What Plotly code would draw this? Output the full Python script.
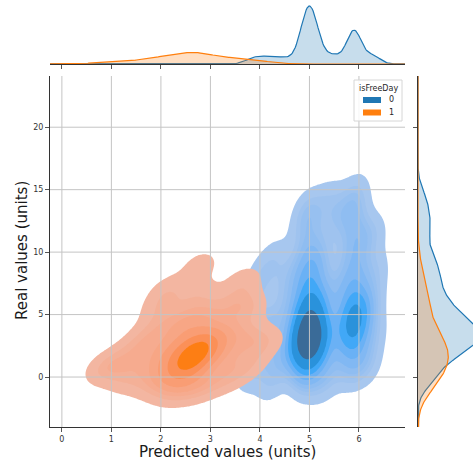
import math
import numpy as np
import plotly.graph_objects as go

W, H = 473, 463

# ---------------- data ----------------
hue_labels = ["0", "1"]
hue_colors = ["#1f77b4", "#ff7f0e"]

# isFreeDay = 0
free0_x = [4.85, 5.0, 5.1, 4.95, 5.05, 4.9, 5.0, 5.1, 4.8, 4.95, 5.05, 5.15, 4.9, 5.0, 4.85, 5.1,
           4.95, 5.05, 5.0, 4.9, 5.1, 4.95, 5.0, 4.85, 5.1, 5.0, 4.9, 5.0, 4.9, 5.05, 4.95, 5.0,
           5.0, 5.15, 5.15, 5.2,
           5.0, 4.95, 5.05, 4.9, 5.1,
           5.85, 5.95, 5.9, 5.8, 5.95, 5.9, 5.85, 6.0, 5.9, 5.8, 5.95, 5.9, 5.85, 6.0, 5.9, 5.85, 5.95, 5.9,
           5.9, 5.95, 5.85,
           5.3, 5.45, 5.55, 5.5, 5.55, 5.4,
           3.75, 3.9, 4.05, 3.85, 4.2, 4.35, 4.15, 4.45, 4.55, 4.6, 4.3, 4.0,
           6.2, 6.3, 6.25, 6.35, 6.3]
free0_y = [0.3, -0.3, 1.8, 1.5, 2.4, 2.0, 2.5, 2.2, 3.0, 3.2, 3.8, 3.0, 4.0, 4.5, 4.8, 4.2,
           5.5, 5.2, 6.0, 6.5, 6.8, 7.5, 8.2, 9.0, 9.8, 11.0, 12.5, 3.5, 2.8, 1.8, 3.4, 4.0,
           13.5, 2.6, 5.6, 9.0,
           3.0, 3.6, 4.4, 2.6, 3.3,
           0.5, 1.5, 2.5, 3.5, 4.2, 4.8, 5.2, 5.6, 6.2, 7.0, 7.8, 8.8, 10.0, 11.0, 12.2, 13.5, 14.8, 5.0,
           3.8, 4.5, 3.0,
           -0.5, 1.2, 3.8, 7.0, 12.5, 14.2,
           0.2, 2.0, 4.0, 6.0, -0.5, 1.2, 3.0, 5.0, 7.5, 2.0, 9.5, 8.0,
           1.0, 3.5, 6.0, 8.5, 11.5]

# isFreeDay = 1
free1_x = [0.8, 1.1, 1.3, 1.5,
           1.8, 1.8, 1.8, 1.95,
           2.2, 2.2, 2.25, 2.2, 2.3, 2.15,
           2.6, 2.5, 2.55, 2.6, 2.65, 2.6, 2.6, 2.75, 2.8,
           2.95, 2.8, 2.85, 2.9, 3.0, 3.0,
           3.4, 3.3, 3.4, 3.5,
           3.8, 3.8, 3.8, 3.7,
           4.15]
free1_y = [0.5, 1.2, -0.2, 2.4,
           -0.6, 1.2, 3.5, 5.5,
           -1.2, 0.2, 1.3, 2.4, 4.2, 7.0,
           -1.0, 0.4, 0.9, 1.4, 1.9, 2.8, 4.5, 6.5, 9.0,
           -0.6, 1.5, 2.2, 2.7, 3.2, 5.0,
           0.0, 1.8, 3.6, 6.0,
           1.0, 3.2, 5.5, 7.8,
           2.8]

x_ticks = [0, 1, 2, 3, 4, 5, 6]
y_ticks = [0, 5, 10, 15, 20]
x_title = "Predicted values (units)"
y_title = "Real values (units)"
legend_title = "isFreeDay"

# smoothing (rendering parameters, like seaborn's bw_adjust)
bw2d = {"0": 0.75, "1": 0.72}
bw1d = {"0": 0.55, "1": 0.9}
n_levels, thresh = 10, 0.05

FONT = "DejaVu Sans"

# ---------------- HUSL (as used by seaborn) ----------------
_m = [[3.2406, -1.5372, -0.4986], [-0.9689, 1.8758, 0.0415], [0.0557, -0.2040, 1.0570]]
_minv = [[0.4124, 0.3576, 0.1805], [0.2126, 0.7152, 0.0722], [0.0193, 0.1192, 0.9505]]
refU, refV = 0.19784, 0.46834


def _max_chroma(L, Hh):
    hr = math.radians(Hh)
    sH, cH = math.sin(hr), math.cos(hr)
    sub1 = (L + 16) ** 3 / 1560896.0
    sub2 = sub1 if sub1 > 0.008856 else L / 903.3
    res = float("inf")
    for m1, m2, m3 in _m:
        top = (0.99915 * m1 + 1.05122 * m2 + 1.14460 * m3) * sub2
        rb = 0.86330 * m3 - 0.17266 * m2
        lb = 0.12949 * m3 - 0.38848 * m1
        bottom = (rb * sH + lb * cH) * sub2
        for t in (0.0, 1.0):
            C = L * (top - 1.05122 * t) / (bottom + 0.17266 * sH * t)
            if 0.0 < C < res:
                res = C
    return res


def _f(t):
    return t ** (1 / 3) if t > 0.008856 else 7.787 * t + 16 / 116


def _finv(t):
    return t ** 3 if t ** 3 > 0.008856 else (116 * t - 16) / 903.3


def _to_lin(c):
    return ((c + 0.055) / 1.055) ** 2.4 if c > 0.04045 else c / 12.92


def _from_lin(c):
    return 12.92 * c if c <= 0.0031308 else 1.055 * c ** (1 / 2.4) - 0.055


def rgb_to_husl(r, g, b):
    rl = [_to_lin(c) for c in (r, g, b)]
    X, Y, Z = [sum(a * b for a, b in zip(row, rl)) for row in _minv]
    den = X + 15 * Y + 3 * Z
    L = 116 * _f(Y) - 16
    U = 13 * L * (4 * X / den - refU)
    V = 13 * L * (9 * Y / den - refV)
    C = math.hypot(U, V)
    Hh = math.degrees(math.atan2(V, U)) % 360
    return Hh, C / _max_chroma(L, Hh) * 100, L


def husl_to_rgb(Hh, S, L):
    C = _max_chroma(L, Hh) / 100 * S
    U = math.cos(math.radians(Hh)) * C
    V = math.sin(math.radians(Hh)) * C
    Y = _finv((L + 16) / 116)
    vU = U / (13 * L) + refU
    vV = V / (13 * L) + refV
    X = -(9 * Y * vU) / ((vU - 4) * vV - vU * vV)
    Z = (9 * Y - 15 * vV * Y - vV * X) / (3 * vV)
    return [min(max(_from_lin(sum(a * b for a, b in zip(row, (X, Y, Z)))), 0), 1) for row in _m]


def hex_rgb(h):
    h = h.lstrip("#")
    return [int(h[i:i + 2], 16) / 255 for i in (0, 2, 4)]


def cmap_from_color(hexc):
    h, s, _ = rgb_to_husl(*hex_rgb(hexc))
    xx = np.linspace(-1, 1, int(1.15 * 256))[:256]
    ls = np.linspace(35, 80, 256)
    cols = [husl_to_rgb(h, s * math.cos(a), l) for a, l in zip(xx, ls)]
    return cols[::-1]


def css(c, a=None):
    r, g, b = [int(round(v * 255)) for v in c]
    return f"rgb({r},{g},{b})" if a is None else f"rgba({r},{g},{b},{a})"


# ---------------- KDE ----------------
def kde2d(xs, ys, gx, gy, bw):
    d = np.vstack([xs, ys])
    n = d.shape[1]
    fac = bw * n ** (-1 / 6)
    cov = np.cov(d) * fac * fac
    inv = np.linalg.inv(cov)
    norm = 1 / (2 * np.pi * np.sqrt(np.linalg.det(cov)))
    X, Y = np.meshgrid(gx, gy)
    out = np.zeros_like(X)
    for xi, yi in zip(xs, ys):
        dx, dy = X - xi, Y - yi
        out += np.exp(-0.5 * (inv[0, 0] * dx * dx + 2 * inv[0, 1] * dx * dy + inv[1, 1] * dy * dy))
    return out * norm / n


def kde1d(v, g, bw):
    v = np.asarray(v, float)
    n = len(v)
    s = bw * n ** (-1 / 5) * v.std(ddof=1)
    return np.exp(-0.5 * ((g[:, None] - v[None, :]) / s) ** 2).sum(1) / (n * s * np.sqrt(2 * np.pi))


groups = {"0": (free0_x, free0_y), "1": (free1_x, free1_y)}
n_tot = sum(len(v[0]) for v in groups.values())

gx = np.linspace(-0.6, 7.4, 260)
gy = np.linspace(-7, 26, 300)
dens = {}
for k, (xs, ys) in groups.items():
    dens[k] = kde2d(xs, ys, gx, gy, bw2d[k]) * len(xs) / n_tot

allv = np.concatenate([d.ravel() for d in dens.values()])
sv = np.sort(allv)[::-1]
cum = np.cumsum(sv) / sv.sum()
q = np.linspace(thresh, 1, n_levels)
levels = np.take(sv, np.searchsorted(cum, 1 - q), mode="clip")

fig = go.Figure()

for k, col in zip(hue_labels, hue_colors):
    cm = cmap_from_color(col)
    scale = [[0.0, "rgba(255,255,255,0)"]]
    nb = n_levels - 1
    for i in range(nb):
        mid = 0.5 * (levels[i] + levels[i + 1])
        v = (mid - levels[0]) / (levels[-1] - levels[0])
        idx = min(int(v * 256), 255)
        scale.append([(i + 1) / nb, css(cm[idx])])
    z = np.interp(dens[k], np.concatenate([[0.0], levels]), np.arange(-1, n_levels))
    fig.add_trace(go.Contour(
        x=gx, y=gy, z=z, colorscale=scale, showscale=False, autocontour=False,
        contours=dict(start=0, end=nb - 1, size=1, coloring="fill", showlines=False),
        line=dict(width=0), hoverinfo="skip", xaxis="x", yaxis="y"))

# marginals
mx = np.linspace(-0.6, 7.4, 400)
my = np.linspace(-7, 26, 500)
top_max, right_max = 0, 0
for k, col in zip(hue_labels, hue_colors):
    xs, ys = groups[k]
    w = len(xs) / n_tot
    dx = kde1d(xs, mx, bw1d[k]) * w
    dy = kde1d(ys, my, bw1d[k]) * w
    top_max = max(top_max, dx.max())
    right_max = max(right_max, dy.max())
    rgb = hex_rgb(col)
    fig.add_trace(go.Scatter(x=mx, y=dx, mode="lines", fill="tozeroy", fillcolor=css(rgb, 0.25),
                             line=dict(color=col, width=1.2), hoverinfo="skip", xaxis="x2", yaxis="y2"))
    fig.add_trace(go.Scatter(x=dy, y=my, mode="lines", fill="tozerox", fillcolor=css(rgb, 0.25),
                             line=dict(color=col, width=1.2), hoverinfo="skip", xaxis="x3", yaxis="y3"))


def px(x):
    return x / W


def py(y):
    return 1 - y / H


main_x = [px(50), px(405)]
main_y = [py(427), py(76)]
tick_font = dict(family=FONT, size=8, color="#333")
axis_common = dict(showgrid=False, zeroline=False, showline=True, linecolor="#333", linewidth=1,
                   ticks="outside", ticklen=4, tickwidth=1, tickcolor="#555", tickfont=tick_font)
axis_marg = {k: v for k, v in axis_common.items() if k != "tickfont"}

fig.update_layout(
    width=W, height=H, margin=dict(l=0, r=0, t=0, b=0),
    paper_bgcolor="white", plot_bgcolor="white", showlegend=False,
    xaxis=dict(domain=main_x, range=[-0.24, 6.93], tickvals=x_ticks, anchor="y", **axis_common),
    yaxis=dict(domain=main_y, range=[-4.0, 24.1], tickvals=y_ticks, anchor="x", **axis_common),
    xaxis2=dict(domain=main_x, matches="x", anchor="y2", tickvals=x_ticks, showticklabels=False, **axis_marg),
    yaxis2=dict(domain=[py(64), 1.0], anchor="x2", range=[0, top_max * 64 / 58], visible=False),
    xaxis3=dict(domain=[px(418), 1.0], anchor="y3", range=[0, right_max * 55 / 62], visible=False),
    yaxis3=dict(domain=main_y, matches="y", anchor="x3", tickvals=y_ticks, showticklabels=False, **axis_marg),
)

# grid lines drawn above the filled contours (as matplotlib does)
shapes = []
for v in x_ticks:
    shapes.append(dict(type="line", xref="x", yref="y domain", x0=v, x1=v, y0=0, y1=1,
                       line=dict(color="#c4c4c4", width=1), layer="above"))
for v in y_ticks:
    shapes.append(dict(type="line", xref="x domain", yref="y", x0=0, x1=1, y0=v, y1=v,
                       line=dict(color="#c4c4c4", width=1), layer="above"))

# legend box
shapes.append(dict(type="rect", xref="paper", yref="paper", x0=px(354), x1=px(402), y0=py(121), y1=py(80),
                   line=dict(color="#d6d6d6", width=1), fillcolor="rgba(255,255,255,0.85)", layer="above"))
annotations = [dict(text=legend_title, xref="paper", yref="paper", x=px(378), y=py(88), showarrow=False,
                    font=dict(family=FONT, size=8, color="#262626"), xanchor="center", yanchor="middle")]
for i, (lab, col) in enumerate(zip(hue_labels, hue_colors)):
    yc = 100 + 12.5 * i
    shapes.append(dict(type="rect", xref="paper", yref="paper", x0=px(363), x1=px(381),
                       y0=py(yc + 3), y1=py(yc - 3), line=dict(width=0), fillcolor=col, layer="above"))
    annotations.append(dict(text=lab, xref="paper", yref="paper", x=px(387), y=py(yc), showarrow=False,
                            font=dict(family=FONT, size=8, color="#262626"), xanchor="left", yanchor="middle"))

annotations.append(dict(text=x_title, xref="paper", yref="paper", x=px(227.5), y=py(452), showarrow=False,
                        font=dict(family=FONT, size=15, color="#1a1a1a"), xanchor="center", yanchor="middle"))
annotations.append(dict(text=y_title, xref="paper", yref="paper", x=px(22), y=py(251), showarrow=False,
                        textangle=-90, font=dict(family=FONT, size=15, color="#1a1a1a"),
                        xanchor="center", yanchor="middle"))

fig.update_layout(shapes=shapes, annotations=annotations)
fig.write_html("out.html", config={"displayModeBar": False},
               post_script="document.body.style.margin='0';document.body.style.overflow='hidden';")
